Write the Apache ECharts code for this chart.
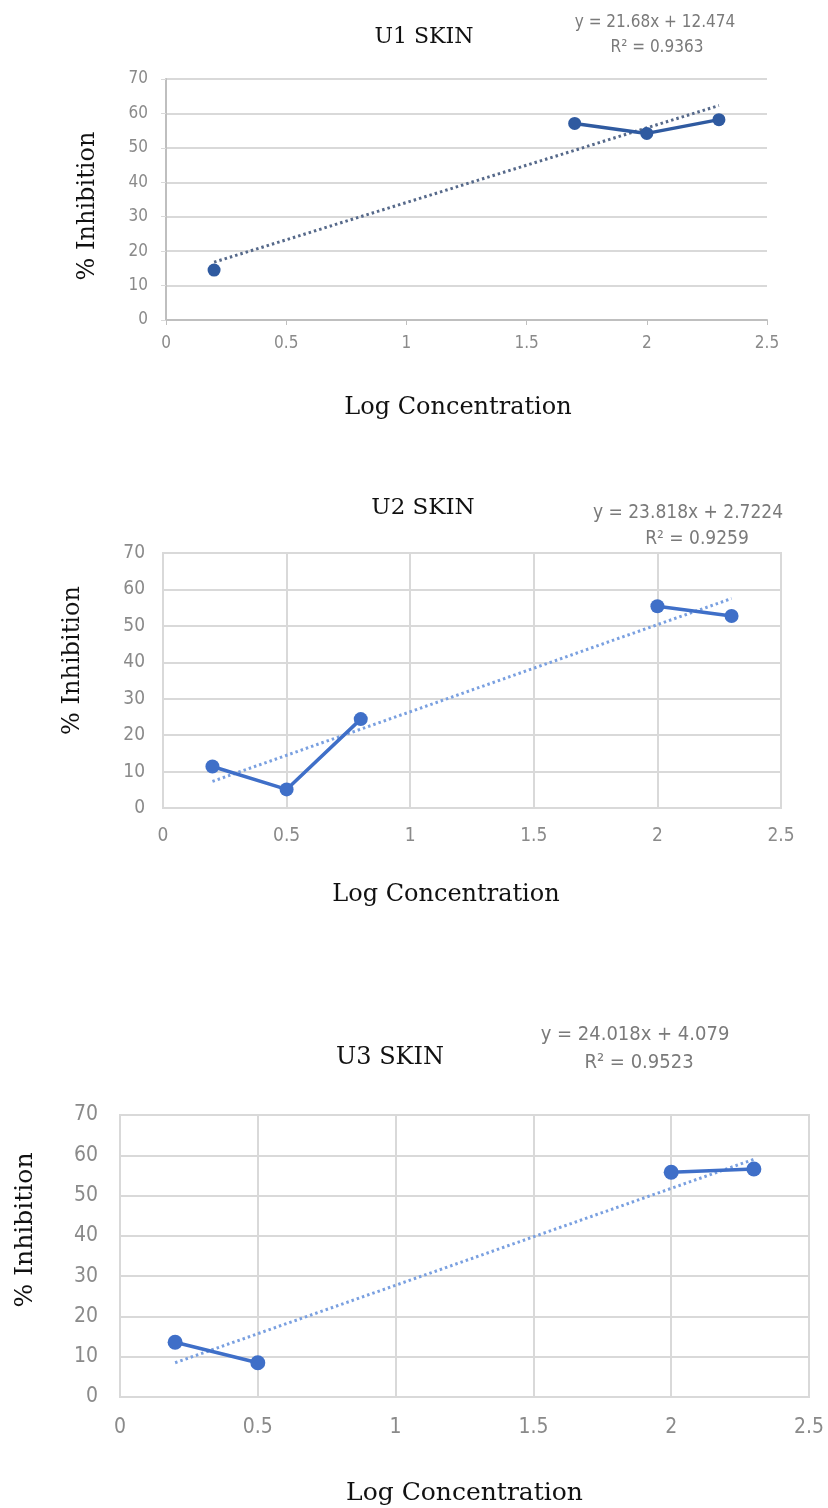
<!DOCTYPE html>
<html>
<head>
<meta charset="utf-8">
<script src="https://cdn.jsdelivr.net/npm/echarts@6/dist/echarts.min.js"></script>
<style>
html,body{margin:0;padding:0;background:#fff;}
#c{width:828px;height:1508px;}
</style>
</head>
<body>
<div id="c"></div>
<script>
// ---- data ----
const logConc = [0.2, 0.5, 0.8, 1.7, 2.0, 2.3];
const u1Inhibition = [14.5, null, null, 57.1, 54.2, 58.2];
const u2Inhibition = [11.4, 5.1, 24.4, null, 55.4, 52.7];
const u3Inhibition = [13.6, 8.5, null, null, 55.8, 56.6];
// trendline endpoints (x = 0.2 and x = 2.3)
const trendX = [0.2, 2.3];
const u1Trend = [16.8, 62.3];
const u2Trend = [7.3, 57.5];
const u3Trend = [8.5, 59.0];
const titles = ['U1 SKIN', 'U2 SKIN', 'U3 SKIN'];
const equations = [
  ['y = 21.68x + 12.474', 'R\u00b2 = 0.9363'],
  ['y = 23.818x + 2.7224', 'R\u00b2 = 0.9259'],
  ['y = 24.018x + 4.079', 'R\u00b2 = 0.9523']
];
const xName = 'Log Concentration';
const yName = '% Inhibition';

const pairs = (xs, ys) => xs.map((x, i) => [x, ys[i] == null ? '-' : ys[i]]);

const serif = "'DejaVu Serif', 'Liberation Serif', serif";
const narrow = "'Liberation Sans Narrow', 'DejaVu Sans Condensed', 'Liberation Sans', sans-serif";

const panels = [
  {grid:{left:166, top:79, width:601, height:241}, full:false, fs:17, lineColor:'#2f5aa0', trendColor:'#56698a', sym:13,
   ys:u1Inhibition, tr:u1Trend, yGap:66, yPad:[0,13,0,0], xGap:76, xPad:[0,17,0,0], nameFs:24, xm:15, ym:18},
  {grid:{left:163, top:553, width:618, height:255}, full:true, fs:19, lineColor:'#3f6fc8', trendColor:'#7aa0e0', sym:14,
   ys:u2Inhibition, tr:u2Trend, yGap:78, yPad:[0,0,0,40], xGap:75, xPad:[0,52,0,0], nameFs:24, xm:19, ym:18},
  {grid:{left:120, top:1115, width:689, height:282}, full:true, fs:21, lineColor:'#3f6fc8', trendColor:'#7aa0e0', sym:15,
   ys:u3Inhibition, tr:u3Trend, yGap:82, yPad:[0,0,0,52], xGap:84, xPad:[0,0,0,0], nameFs:25, xm:20, ym:22}
];

const option = {
  backgroundColor:'#fff',
  animation:false,
  title:[], grid:[], xAxis:[], yAxis:[], series:[]
};

const titlePos = [[419,32,22],[418,503,23],[385,1053,24]];
const eqPos = [[650,18,652,43,17],[683,508,692,534,19],[630,1030,634,1058,20]];

panels.forEach((p, i) => {
  option.grid.push(Object.assign({show:p.full, borderColor:'#d9d9d9', borderWidth:2, containLabel:false}, p.grid));
  option.title.push({text:titles[i], left:titlePos[i][0], top:titlePos[i][1], textAlign:'center', textVerticalAlign:'middle',
    textStyle:{fontFamily:serif, fontWeight:'normal', fontSize:titlePos[i][2], color:'#111'}});
  option.title.push({text:equations[i][0], left:eqPos[i][0], top:eqPos[i][1], textAlign:'center', textVerticalAlign:'middle',
    textStyle:{fontFamily:narrow, fontWeight:'normal', fontSize:eqPos[i][4], color:'#7a7a7a'}});
  option.title.push({text:equations[i][1], left:eqPos[i][2], top:eqPos[i][3], textAlign:'center', textVerticalAlign:'middle',
    textStyle:{fontFamily:narrow, fontWeight:'normal', fontSize:eqPos[i][4], color:'#7a7a7a'}});
  option.xAxis.push({
    type:'value', gridIndex:i, min:0, max:2.5, interval:0.5,
    name:xName, nameLocation:'middle', nameGap:p.xGap,
    nameTextStyle:{fontFamily:serif, fontSize:p.nameFs, color:'#111', padding:p.xPad},
    axisLine:{show:true, lineStyle:{color:p.full ? '#d9d9d9' : '#bfbfbf', width:2}},
    axisTick:{show:!p.full, length:5, lineStyle:{color:'#bfbfbf'}},
    axisLabel:{fontFamily:narrow, fontSize:p.fs, color:'#8a8a8a', margin:p.xm},
    splitLine:{show:p.full, lineStyle:{color:'#d9d9d9', width:2}}
  });
  option.yAxis.push({
    type:'value', gridIndex:i, min:0, max:70, interval:10,
    name:yName, nameLocation:'middle', nameGap:p.yGap, nameRotate:90,
    nameTextStyle:{fontFamily:serif, fontSize:p.nameFs, color:'#111', padding:p.yPad},
    axisLine:{show:true, lineStyle:{color:p.full ? '#d9d9d9' : '#bfbfbf', width:2}},
    axisTick:{show:!p.full, length:5, lineStyle:{color:'#d9d9d9'}},
    axisLabel:{fontFamily:narrow, fontSize:p.fs, color:'#8a8a8a', margin:p.ym},
    splitLine:{show:true, lineStyle:{color:'#d9d9d9', width:2}}
  });
  option.series.push({
    type:'line', xAxisIndex:i, yAxisIndex:i, data:pairs(trendX, p.tr),
    symbol:'none', silent:true, z:3,
    lineStyle:{color:p.trendColor, width:3, type:[2.5,3]}
  });
  option.series.push({
    type:'line', xAxisIndex:i, yAxisIndex:i, data:pairs(logConc, p.ys),
    connectNulls:false, symbol:'circle', symbolSize:p.sym, z:4,
    itemStyle:{color:p.lineColor}, lineStyle:{color:p.lineColor, width:3.5}
  });
});

const chart = echarts.init(document.getElementById('c'), null, {renderer:'canvas'});
chart.setOption(option);
</script>
</body>
</html>
